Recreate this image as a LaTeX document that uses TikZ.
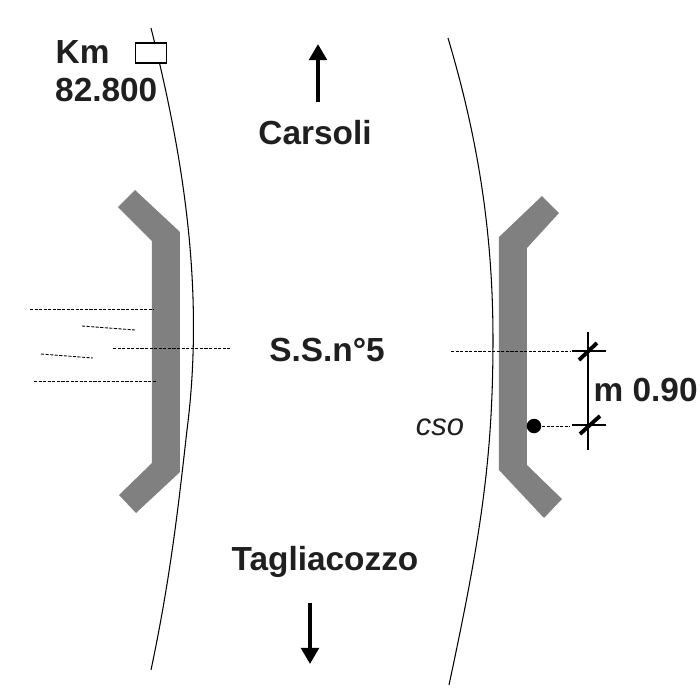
\documentclass[tikz,border=0pt]{standalone}
\usepackage{fontspec}
\setmainfont{Liberation Sans}
\usetikzlibrary{arrows.meta}
\tikzset{
    label/.style={inner sep=0pt, font=\fontsize{9.5}{11}\selectfont\bfseries, text=black!88},
    verge/.style={line width=0.3pt},
    bar/.style={fill=black!50, draw=none},
    trace/.style={line width=0.25pt, dash pattern=on 0.9pt off 0.4pt},
    flow/.style={line width=1.1pt, -{Triangle[length=4.6pt,width=5pt]}},
    tick/.style={line width=1.1pt}
}
\begin{document}
\begin{tikzpicture}
    \useasboundingbox (0,0) rectangle (7,7);

    % road edges
    \draw[verge] (1.51,6.72) .. controls (1.83,5.45) and (2.05,4.10) .. (1.87,2.70) .. controls (1.78,1.90) and (1.70,1.20) .. (1.51,0.30);
    \draw[verge] (4.48,6.62) .. controls (4.80,5.55) and (4.93,4.60) .. (4.93,3.60) .. controls (4.93,2.40) and (4.80,1.60) .. (4.49,0.15);

    % side barriers
    \fill[bar] (1.18,4.93) -- (1.35,5.10) -- (1.80,4.68) -- (1.80,2.28) -- (1.36,1.87) -- (1.19,2.05) -- (1.52,2.37) -- (1.52,4.59) -- cycle;
    \fill[bar] (5.59,4.87) -- (5.42,5.04) -- (4.99,4.63) -- (4.99,2.30) -- (5.44,1.82) -- (5.62,2.01) -- (5.27,2.35) -- (5.27,4.52) -- cycle;

    % km marker
    \node[draw, fill=white, line width=0.3pt, minimum width=0.31cm, minimum height=0.2cm, inner sep=0pt] (marker) at (1.51,6.47) {};
    \node[label, anchor=west] (km) at (0.55,6.48) {Km};
    \node[label, anchor=west] (kmvalue) at (0.545,6.10) {82.800};

    % directions
    \coordinate (upstart) at (3.18,5.98);
    \coordinate (upend) at (3.18,6.56);
    \coordinate (downstart) at (3.10,0.97);
    \coordinate (downend) at (3.10,0.36);
    \draw[flow] (upstart) -- (upend);
    \draw[flow] (downstart) -- (downend);
    \node[label] (carsoli) at (3.15,5.67) {Carsoli};
    \node[label] (road) at (3.27,3.50) {S.S.n°5};
    \node[label] (tagliacozzo) at (3.25,1.38) {Tagliacozzo};

    % traces on the left side
    \coordinate (l1a) at (0.30,3.91);
    \coordinate (l1b) at (1.54,3.91);
    \coordinate (l2a) at (0.82,3.74);
    \coordinate (l2b) at (1.35,3.70);
    \coordinate (l3a) at (0.41,3.46);
    \coordinate (l3b) at (0.93,3.42);
    \coordinate (l4a) at (0.34,3.19);
    \coordinate (l4b) at (1.56,3.19);
    \coordinate (l5a) at (1.13,3.52);
    \coordinate (l5b) at (2.31,3.52);
    \draw[trace] (l1a) -- (l1b);
    \draw[trace] (l2a) -- (l2b);
    \draw[trace] (l3a) -- (l3b);
    \draw[trace] (l4a) -- (l4b);
    \draw[trace] (l5a) -- (l5b);

    % measure on the right side
    \node[circle, fill=black, inner sep=0pt, minimum size=0.145cm] (cso) at (5.34,2.74) {};
    \node[inner sep=0pt, font=\fontsize{8.8}{11}\selectfont\itshape, text=black!88] (csolabel) at (4.40,2.73) {cso};
    \coordinate (r1a) at (4.51,3.49);
    \coordinate (r1b) at (5.70,3.49);
    \coordinate (r2b) at (5.70,2.74);
    \coordinate (t1a) at (5.72,3.49);
    \coordinate (t1b) at (6.06,3.49);
    \coordinate (t2a) at (5.72,2.75);
    \coordinate (t2b) at (6.06,2.75);
    \coordinate (dimtop) at (5.88,3.68);
    \coordinate (dimbot) at (5.88,2.50);
    \coordinate (s1a) at (5.79,3.40);
    \coordinate (s1b) at (5.97,3.57);
    \coordinate (s2a) at (5.80,2.66);
    \coordinate (s2b) at (6.00,2.84);
    \draw[trace] (r1a) -- (r1b);
    \draw[trace] (cso) -- (r2b);
    \draw[verge] (t1a) -- (t1b);
    \draw[verge] (t2a) -- (t2b);
    \draw[verge] (dimtop) -- (dimbot);
    \draw[tick] (s1a) -- (s1b);
    \draw[tick] (s2a) -- (s2b);
    \node[label, anchor=west] (dist) at (5.93,3.10) {m 0.90};
\end{tikzpicture}
\end{document}
